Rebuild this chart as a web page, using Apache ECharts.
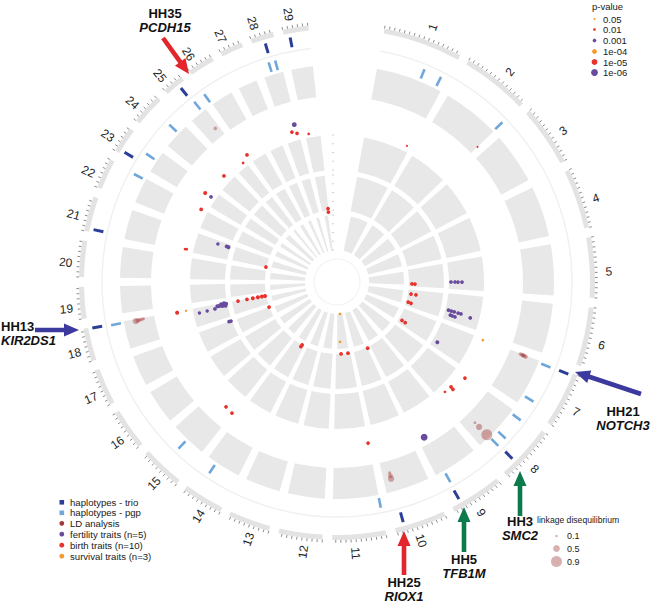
<!DOCTYPE html>
<html>
<head>
<meta charset="utf-8">
<title>Circos plot</title>
<script src="https://cdn.jsdelivr.net/npm/echarts@6.0.0/dist/echarts.min.js"></script>
<style>
html,body{margin:0;padding:0;background:#ffffff;}
#chart{width:669px;height:604px;}
</style>
</head>
<body>
<div id="chart"></div>
<script>
// ---------------- DATA ----------------
const chromosomes = ['1','2','3','4','5','6','7','8','9','10','11','12','13','14','15','16','17','18','19','20','21','22','23','24','25','26','27','28','29'];
const chromLengthsMb = [158.5,136.2,121.0,120.0,120.1,117.8,110.7,113.3,105.5,103.3,107.0,87.2,83.5,82.4,85.0,81.0,73.2,65.8,63.4,72.0,69.9,60.8,52.5,62.3,42.4,52.0,45.6,45.9,51.1];

// haplotypes [chromosome, position Mb]
const trioHaplotypes = [[7,4],[8,82],[9,86],[10,84],[18,64],[21,6],[23,7],[25,28],[28,25],[29,11.7]];
const pgpHaplotypes = [[1,104],[1,144],[2,135],[7,5],[7,89],[8,9],[8,61],[8,84],[9,84],[11,0.5],[14,60],[15,45],[18,62.5],[22,57],[23,29],[24,39],[25,32],[25,59.6],[28,20],[28,35]];

// LD analysis [chromosome, position Mb, radial value, LD r2]
const ldPoints = [
  [8,85,214,0.9],[8,85,203,0.45],[8,85,197,0.12],
  [10,84,198,0.15],[10,84,201,0.3],[10,84.3,204,0.45],
  [18,61,205,0.45],[18,61.5,203,0.3],[18,62,201,0.2],[18,62.5,199,0.2],[18,63,197,0.15],
  [7,1.5,197,0.2],[7,2,199,0.25],[7,2.5,201,0.3],[7,3,203,0.25],[7,2,200,0.2],
  [25,32,196,0.2]
];

// trait associations [chromosome, position Mb, radial value, p-value]
const fertilityPoints = [
  [5,88.8,114,0.001],[5,88.8,118,0.001],[5,89,121,0.001],[5,89,125,0.001],
  [6,75,115,0.001],[6,75.5,118,0.001],[6,76,121,0.001],[6,76.5,125,0.001],[6,77,128,0.001],
  [6,93,118,0.001],[6,94,120,0.001],[6,95,123,0.001],[6,83,138,0.001],
  [7,86,117,0.0005],
  [9,86,178,1e-6],
  [17,72,113,0.001],[17,72.5,115,0.001],
  [18,46,141,0.002],[18,47,133,0.002],[18,48,125,0.001],
  [18,52,114,0.0005],[18,54,117,0.0005],[18,56,120,0.0005],[18,58,116,0.0005],[18,60,113,0.0005],[18,62,118,0.0005],[18,64,115,0.0005],[18,57,122,0.0005],
  [21,55,125,0.002],[21,56,114,0.0005],[21,56.5,116,0.001],
  [23,30,152,0.001],
  [28,38.7,163,0.0001]
];
const birthPoints = [
  [1,146.7,153,0.03],[2,136,195,0.05],
  [5,102,75,0.001],[5,102.5,78,0.001],
  [6,30.7,75,0.001],[6,31,80,0.001],
  [6,89,74,0.001],[6,91,77,0.001],
  [7,82.5,75.5,0.001],[7,84.5,79.4,0.001],
  [8,8.4,160,0.001],[8,59,155,0.001],[8,60.5,158,0.001],[8,84.5,154,0.01],
  [10,0.5,73,0.001],[11,1,164,0.001],
  [11,20,72,0.001],[11,69,72,0.001],
  [14,18,72,0.001],[14,20,74,0.001],
  [15,2,168,0.001],[15,28,167,0.001],
  [17,72,72.4,0.001],
  [18,61.8,100.8,0.001],[18,61.6,91.7,0.001],[18,61.5,85.7,0.0005],[18,61.3,80.6,0.0005],[18,61.2,76.5,0.0005],[18,61,73.3,0.0005],
  [18,62.2,162.8,0.0005],
  [21,4,72.6,0.001],[21,6.7,155.5,0.01],[21,7.5,153.8,0.01],
  [22,58,154,0.001],[23,30,159,0.0005],[24,39,155,0.001],
  [25,33,151.6,0.01],[25,59,155.7,0.001],
  [28,25,156.6,0.001],[28,40,154,0.001],
  [29,11.9,150.8,0.01],[29,46,74,0.001],[29,45.5,70.5,0.001]
];
const survivalPoints = [
  [7,4,157,0.01],[11,49.9,32,0.01],[11,72,60,0.01],[18,62.9,153.6,0.02]
];

// legends
const pValueLegend = ['0.05','0.01','0.001','1e-04','1e-05','1e-06'];
const ldLegend = [0.1, 0.5, 0.9];
const trackLegend = ['haplotypes - trio','haplotypes - pgp','LD analysis','fertility traits (n=5)','birth traits (n=10)','survival traits (n=3)'];

// ---------------- LAYOUT / STYLE ----------------
const CX = 337, CY = 282, R_MAX = 262;
const GAP_MB = 19.5, START_OFFSET_MB = 94, CIRCLE_MB = 3186;
const TRACK_SURVIVAL = [32, 67], TRACK_BIRTH = [72, 107], TRACK_FERT = [112, 147], TRACK_LD = [186, 217];
const PGP_R = [220, 230], TRIO_R = [239, 249], GUIDE_R = 235;
const BAND_R = [253, 258], TICK_R = [258, 260.8], LABEL_R = 272, LABEL_SHIFT = 5;
const FONT = "'Liberation Sans', Arial, Helvetica, sans-serif";
const C = {
  block:'#e8e8e8', band:'#e3e3e3', tick:'#6e6e6e', trio:'#2c3f98', pgp:'#6fa7db',
  ld:'rgba(158,46,46,0.5)', ldSolid:'#a03a3a', fert:'#6a4c9e', birth:'#e8322c', surv:'#f5992f',
  red:'#e3262b', blue:'#3c3a9e', green:'#0d7a4c'
};

const chromStart = [];
(function(){ let acc = START_OFFSET_MB; chromLengthsMb.forEach(L => { chromStart.push(acc); acc += L + GAP_MB; }); })();
const gpos = (c, p) => chromStart[c - 1] + p;
const pSize = p => 1.05 * (-Math.log10(p)) + 0.6;
const ldSize = v => 1.5 + 10.5 * v;

function makeSectorSeries(name, data, fill, minGapPx, z) {
  return {
    type: 'custom', name, coordinateSystem: 'polar', silent: true, z: z || 1, clip: false, data,
    renderItem(params, api) {
      const cs = params.coordSys;
      const r0 = api.value(0), a0 = api.value(1), r1 = api.value(2), a1 = api.value(3);
      const rm = (r0 + r1) / 2;
      const pA = api.coord([rm, a0]), pB = api.coord([rm, a1]);
      const q0 = api.coord([r0, a0]), q1 = api.coord([r1, a0]);
      const R0 = Math.hypot(q0[0] - cs.cx, q0[1] - cs.cy), R1 = Math.hypot(q1[0] - cs.cx, q1[1] - cs.cy);
      let s = Math.atan2(pA[1] - cs.cy, pA[0] - cs.cx), e = Math.atan2(pB[1] - cs.cy, pB[0] - cs.cx);
      if (a1 - a0 >= CIRCLE_MB - 1e-6) e = s + 2 * Math.PI;
      else { while (e <= s) e += 2 * Math.PI; }
      if (minGapPx) {
        const Rm = (R0 + R1) / 2, g = GAP_MB / CIRCLE_MB * 2 * Math.PI, need = minGapPx / Rm;
        if (need > g) { const d = (need - g) / 2; s += d; e -= d; }
      }
      return { type: 'sector', shape: { cx: cs.cx, cy: cs.cy, r0: R0, r: R1, startAngle: s, endAngle: e, clockwise: true }, style: { fill } };
    }
  };
}
function makeRadialLines(name, data, color, width, z) {
  return {
    type: 'custom', name, coordinateSystem: 'polar', silent: true, z: z || 5, clip: false, data,
    renderItem(params, api) {
      const p0 = api.coord([api.value(0), api.value(1)]), p1 = api.coord([api.value(2), api.value(1)]);
      return { type: 'line', shape: { x1: p0[0], y1: p0[1], x2: p1[0], y2: p1[1] }, style: { stroke: color, lineWidth: width, lineCap: 'butt' } };
    }
  };
}
function pointSeries(name, pts, color, z) {
  return {
    type: 'scatter', name, coordinateSystem: 'polar', silent: true, z,
    data: pts.map(p => ({ value: [p[2], gpos(p[0], p[1])], p: p[3] })),
    symbolSize: (v, prm) => pSize(prm.data.p), itemStyle: { color, opacity: 1 }
  };
}

const blockData = tr => chromLengthsMb.map((L, i) => [tr[0], chromStart[i], tr[1], chromStart[i] + L]);
const tickData = [];
chromLengthsMb.forEach((L, i) => { for (let m = 0; m <= L; m += 10) tickData.push([TICK_R[0], chromStart[i] + m, TICK_R[1]]); });
const lastEnd = chromStart[28] + chromLengthsMb[28];

const series = [
  makeSectorSeries('band', blockData(BAND_R), C.band, 0, 1),
  makeSectorSeries('ld track', blockData(TRACK_LD), C.block, 4.2, 1),
  makeSectorSeries('fertility track', blockData(TRACK_FERT), C.block, 4.2, 1),
  makeSectorSeries('birth track', blockData(TRACK_BIRTH), C.block, 4.2, 1),
  makeSectorSeries('survival track', blockData(TRACK_SURVIVAL), C.block, 4.2, 1),
  makeSectorSeries('guide', [[GUIDE_R - 0.7, chromStart[0], GUIDE_R + 0.7, lastEnd]], '#f0f0f0', 0, 1),
  makeSectorSeries('inner guide', [[22.4, 0, 23.6, CIRCLE_MB]], '#f3f3f3', 0, 1),
  makeRadialLines('ticks', tickData, C.tick, 0.8, 3),
  {
    type: 'custom', name: 'track ticks', coordinateSystem: 'polar', silent: true, z: 3, clip: false,
    data: [TRACK_SURVIVAL, TRACK_BIRTH, TRACK_FERT].flatMap(t => [0, 1, 2, 3, 4].map(k => [t[0] + (t[1] - t[0]) * k / 4, 0])),
    renderItem(params, api) {
      const p = api.coord([api.value(0), api.value(1)]);
      return { type: 'line', shape: { x1: p[0] - 5, y1: p[1], x2: p[0] - 3, y2: p[1] }, style: { stroke: '#c4c4c4', lineWidth: 0.8 } };
    }
  },
  {
    type: 'custom', name: 'labels', coordinateSystem: 'polar', silent: true, z: 6, clip: false,
    data: chromosomes.map((n, i) => [LABEL_R, chromStart[i] + chromLengthsMb[i] / 2, i]),
    renderItem(params, api) {
      const cs = params.coordSys;
      const p = api.coord([api.value(0), api.value(1)]);
      const a = Math.atan2(p[1] - cs.cy, p[0] - cs.cx);
      const rot = p[0] >= cs.cx - 0.5 ? -a : -(a + Math.PI);
      const x = p[0] + LABEL_SHIFT * Math.sin(rot), y = p[1] + LABEL_SHIFT * Math.cos(rot);
      return { type: 'text', x, y, rotation: rot,
        style: { text: chromosomes[api.value(2)], fill: '#1e1e1e', font: '12px ' + FONT, align: 'center', verticalAlign: 'middle' } };
    }
  },
  makeRadialLines('haplotypes - pgp', pgpHaplotypes.map(([c, p]) => [PGP_R[0], gpos(c, p), PGP_R[1]]), C.pgp, 2.6, 5),
  makeRadialLines('haplotypes - trio', trioHaplotypes.map(([c, p]) => [TRIO_R[0], gpos(c, p), TRIO_R[1]]), C.trio, 3, 5),
  {
    type: 'scatter', name: 'LD analysis', coordinateSystem: 'polar', silent: true, z: 7,
    data: ldPoints.slice().sort((a, b) => b[3] - a[3]).map(p => ({ value: [p[2], gpos(p[0], p[1])], ld: p[3] })),
    symbolSize: (v, prm) => ldSize(prm.data.ld), itemStyle: { color: C.ld }
  },
  pointSeries('fertility traits (n=5)', fertilityPoints, C.fert, 8),
  pointSeries('birth traits (n=10)', birthPoints, C.birth, 9),
  pointSeries('survival traits (n=3)', survivalPoints, C.surv, 10)
];

// ---------------- GRAPHICS (legends & annotations) ----------------
const g = [];
const txt = (x, y, text, opt) => Object.assign({ type: 'text', x, y, silent: true, z: 20,
  style: Object.assign({ text, fill: '#1a1a1a', font: '10px ' + FONT, align: 'left', verticalAlign: 'middle' }, opt || {}) });
// p-value legend
g.push(txt(592, 6, 'p-value', { font: '9.5px ' + FONT }));
const pvColors = [C.surv, C.birth, C.fert, C.surv, C.birth, C.fert];
const pvY = [19, 29.5, 40.5, 51.5, 62, 72.5];
pValueLegend.forEach((t, i) => {
  g.push({ type: 'circle', silent: true, z: 20, shape: { cx: 594.5, cy: pvY[i], r: pSize(Number(t)) / 2 }, style: { fill: pvColors[i] } });
  g.push(txt(603, pvY[i], t, { font: '9.5px ' + FONT }));
});
// track legend
const tlY = [502.3, 512.8, 523.3, 534.2, 545.2, 556.2];
const tlColors = [C.trio, C.pgp, C.ldSolid, C.fert, C.birth, C.surv];
trackLegend.forEach((t, i) => {
  if (i < 2) g.push({ type: 'rect', silent: true, z: 20, shape: { x: 59.5, y: tlY[i] - 2.3, width: 4.6, height: 4.6 }, style: { fill: tlColors[i] } });
  else g.push({ type: 'circle', silent: true, z: 20, shape: { cx: 61.8, cy: tlY[i], r: 2.4 }, style: { fill: tlColors[i] } });
  g.push(txt(70, tlY[i], t, { font: '9.6px ' + FONT }));
});
// LD legend
g.push(txt(537, 519.5, 'linkage disequilibrium', { font: '8.6px ' + FONT }));
const ldY = [536, 548.5, 561.5];
ldLegend.forEach((v, i) => {
  g.push({ type: 'circle', silent: true, z: 20, shape: { cx: 556.5, cy: ldY[i], r: ldSize(v) / 2 }, style: { fill: 'rgba(170,80,80,0.45)' } });
  g.push(txt(567, ldY[i], String(v), { font: '9px ' + FONT }));
});
// annotations
const annotations = [
  { id: 'HH35', gene: 'PCDH15', color: C.red, tail: [163, 38], tip: [189, 74], text: [165, 13], align: 'center' },
  { id: 'HH13', gene: 'KIR2DS1', color: C.blue, tail: [35, 330], tip: [79, 330], text: [1, 326.5], align: 'left' },
  { id: 'HH21', gene: 'NOTCH3', color: C.blue, tail: [641, 394], tip: [575, 372], text: [623, 411], align: 'center' },
  { id: 'HH3', gene: 'SMC2', color: C.green, tail: [520, 516], tip: [520, 471], text: [520, 521], align: 'center' },
  { id: 'HH5', gene: 'TFB1M', color: C.green, tail: [464, 552], tip: [464, 507], text: [464, 559.5], align: 'center' },
  { id: 'HH25', gene: 'RIOX1', color: C.red, tail: [404, 575], tip: [404, 531], text: [404, 582], align: 'center' }
];
function arrowPoints(t, h, sw, hw, hl) {
  const dx = h[0] - t[0], dy = h[1] - t[1], L = Math.hypot(dx, dy), ux = dx / L, uy = dy / L, nx = -uy, ny = ux;
  const bx = h[0] - ux * hl, by = h[1] - uy * hl;
  return [[t[0] + nx * sw / 2, t[1] + ny * sw / 2], [bx + nx * sw / 2, by + ny * sw / 2], [bx + nx * hw / 2, by + ny * hw / 2], h,
    [bx - nx * hw / 2, by - ny * hw / 2], [bx - nx * sw / 2, by - ny * sw / 2], [t[0] - nx * sw / 2, t[1] - ny * sw / 2]];
}
annotations.forEach(a => {
  g.push({ type: 'polygon', silent: true, z: 21, shape: { points: arrowPoints(a.tail, a.tip, 4.6, 13, 15) }, style: { fill: a.color } });
  g.push(txt(a.text[0], a.text[1], a.id, { font: 'bold 13px ' + FONT, align: a.align, fill: '#111' }));
  g.push(txt(a.text[0], a.text[1] + 14, a.gene, { font: 'italic bold 13px ' + FONT, align: a.align, fill: '#111' }));
});

const chart = echarts.init(document.getElementById('chart'), null, { renderer: 'svg', width: 669, height: 604 });
chart.setOption({
  animation: false,
  backgroundColor: '#ffffff',
  polar: { center: [CX, CY], radius: [0, R_MAX] },
  angleAxis: { type: 'value', min: 0, max: CIRCLE_MB, startAngle: 90, clockwise: true,
    axisLine: { show: false }, axisTick: { show: false }, axisLabel: { show: false }, splitLine: { show: false } },
  radiusAxis: { type: 'value', min: 0, max: R_MAX,
    axisLine: { show: false }, axisTick: { show: false }, axisLabel: { show: false }, splitLine: { show: false } },
  series,
  graphic: { elements: g }
});
</script>
</body>
</html>
